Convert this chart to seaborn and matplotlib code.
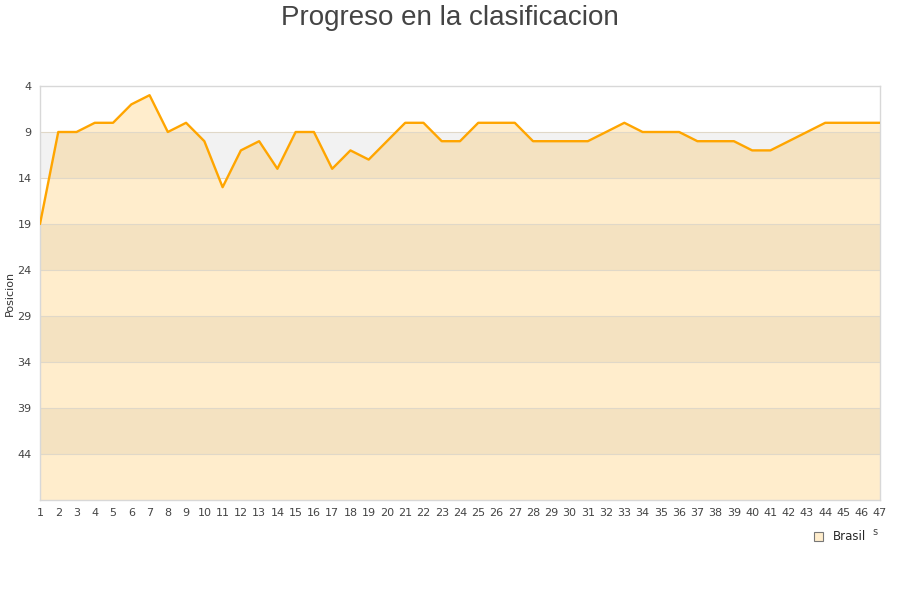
import matplotlib
matplotlib.use("Agg")
import matplotlib.pyplot as plt
import seaborn as sns
import pandas as pd
from matplotlib.patches import Patch

jornadas = list(range(1, 48))
posiciones = [19, 9, 9, 8, 8, 6, 5, 9, 8, 10,
              15, 11, 10, 13, 9, 9, 13, 11, 12, 10,
              8, 8, 10, 10, 8, 8, 8, 10, 10, 10,
              10, 9, 8, 9, 9, 9, 10, 10, 10, 11,
              11, 10, 9, 8, 8, 8, 8]
y_ticks = [4, 9, 14, 19, 24, 29, 34, 39, 44]
serie = "Brasil"
titulo = "Progreso en la clasificacion"
y_label = "Posicion"

df = pd.DataFrame({"Jornada": jornadas, "Posicion": posiciones})

sns.set_theme(style="white")
plt.rcParams['font.family'] = ['DejaVu Sans']

fig = plt.figure(figsize=(9, 6), dpi=100)
ax = fig.add_axes([40/900, 100/600, 840/900, 414/600])

ymin, ymax = 4, 49
# alternating bands
for i, t in enumerate(y_ticks):
    if i % 2 == 1:
        ax.axhspan(t, t + 5, color="#f2f2f2", zorder=0, lw=0)

ax.fill_between(df["Jornada"], df["Posicion"], ymax, color="#ffa500", alpha=0.2, lw=0, zorder=1)
sns.lineplot(data=df, x="Jornada", y="Posicion", ax=ax, color="#ffa500", lw=1.7, zorder=3)

for t in y_ticks[1:]:
    ax.axhline(t, color="#e0d8c8", lw=0.8, zorder=2)

ax.set_xlim(1, 47)
ax.set_ylim(ymax, ymin)
ax.set_xticks(jornadas)
ax.set_xticklabels([str(j) for j in jornadas], fontsize=8, color="#444444")
ax.set_yticks(y_ticks)
ax.set_yticklabels([str(t) for t in y_ticks], fontsize=8, color="#444444")
ax.tick_params(axis="both", length=0, pad=6)
ax.set_xlabel("")
ax.set_ylabel(y_label, fontsize=8, color="#333333", labelpad=2)
for s in ax.spines.values():
    s.set_color("#d8d8d8")
    s.set_linewidth(1)

fig.text(0.5, 1 - 25/600, titulo, ha="center", va="baseline", fontsize=20,
         color="#444444", family=["Liberation Sans", "DejaVu Sans"])
fig.text(875/900, 1 - 532/600, "s", fontsize=7, color="#444444", ha="center", va="center")

handle = Patch(facecolor="#ffedcc", edgecolor="#777777", lw=0.8, label=serie)
fig.legend(handles=[handle], loc="center", bbox_to_anchor=(840/900, 1 - 537/600),
           frameon=False, fontsize=8.5, handlelength=0.8, handleheight=0.8,
           handletextpad=0.8)

fig.savefig("out.png", dpi=100)
